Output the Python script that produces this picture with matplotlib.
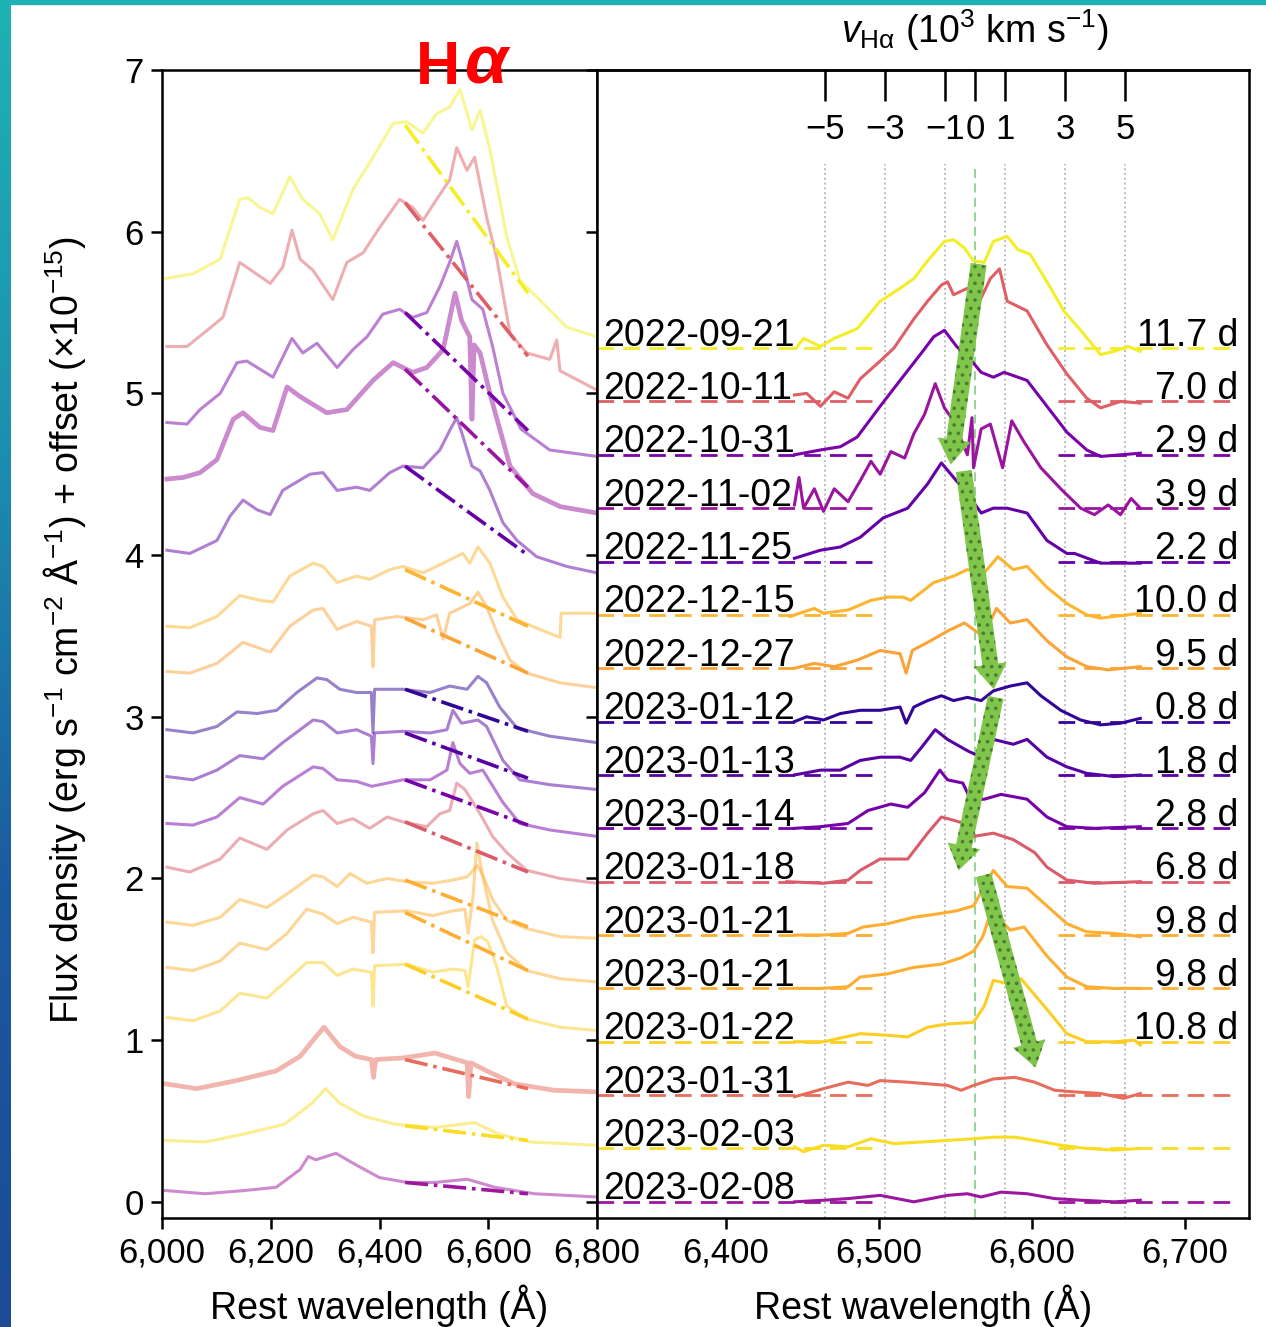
import matplotlib.pyplot as plt
import numpy as np
from matplotlib.colors import LinearSegmentedColormap
from matplotlib.ticker import FuncFormatter

plt.rcParams['font.family'] = ['Liberation Sans', 'DejaVu Sans']
plt.rcParams['mathtext.fontset'] = 'custom'
plt.rcParams['mathtext.rm'] = 'Liberation Sans'
plt.rcParams['mathtext.it'] = 'Liberation Sans:italic'
plt.rcParams['mathtext.bf'] = 'Liberation Sans:bold'
plt.rcParams['hatch.linewidth'] = 1.4

# ---- data -------------------------------------------------------------
dates = ['2022-09-21', '2022-10-11', '2022-10-31', '2022-11-02', '2022-11-25',
         '2022-12-15', '2022-12-27', '2023-01-12', '2023-01-13', '2023-01-14',
         '2023-01-18', '2023-01-21', '2023-01-21', '2023-01-22', '2023-01-31',
         '2023-02-03', '2023-02-08']
days = ['11.7 d', '7.0 d', '2.9 d', '3.9 d', '2.2 d', '10.0 d', '9.5 d', '0.8 d',
        '1.8 d', '2.8 d', '6.8 d', '9.8 d', '9.8 d', '10.8 d', '', '', '']
# phase used for the colour of each spectrum (last three estimated from colour)
color_phase = [11.7, 7.0, 2.9, 3.9, 2.2, 10.0, 9.5, 0.8, 1.8, 2.8, 6.8, 9.8, 9.8,
               10.8, 7.5, 11.2, 4.0]

# left panel: full spectra, flux + offset (1e-15)
left_wave = [
    [6005, 6057, 6107, 6143, 6158, 6180, 6204, 6235, 6259, 6290, 6314, 6351, 6388, 6425, 6450, 6480, 6505, 6529, 6548, 6570, 6585, 6603, 6634, 6658, 6700, 6744, 6800],
    [6009, 6046, 6083, 6112, 6143, 6156, 6199, 6222, 6239, 6254, 6278, 6314, 6340, 6370, 6401, 6437, 6461, 6480, 6505, 6529, 6542, 6561, 6575, 6597, 6616, 6640, 6671, 6713, 6726, 6732, 6800],
    [6009, 6046, 6070, 6107, 6138, 6156, 6204, 6239, 6259, 6285, 6322, 6351, 6377, 6406, 6437, 6461, 6487, 6511, 6529, 6542, 6553, 6570, 6590, 6608, 6627, 6660, 6713, 6800],
    [6009, 6039, 6070, 6101, 6131, 6149, 6180, 6204, 6230, 6254, 6303, 6340, 6388, 6425, 6461, 6487, 6517, 6539, 6551, 6566, 6570, 6574, 6585, 6603, 6640, 6682, 6732, 6800],
    [6009, 6051, 6101, 6125, 6149, 6175, 6199, 6222, 6272, 6296, 6322, 6358, 6382, 6419, 6443, 6480, 6511, 6529, 6542, 6551, 6570, 6585, 6603, 6627, 6653, 6689, 6744, 6800],
    [6009, 6051, 6101, 6143, 6180, 6204, 6235, 6278, 6296, 6322, 6358, 6382, 6419, 6443, 6480, 6517, 6553, 6566, 6581, 6603, 6627, 6653, 6695, 6732, 6734, 6800],
    [6009, 6051, 6101, 6149, 6199, 6235, 6278, 6296, 6322, 6358, 6385, 6388, 6391, 6432, 6480, 6505, 6517, 6529, 6566, 6581, 6597, 6616, 6640, 6671, 6732, 6800],
    [6009, 6057, 6101, 6138, 6175, 6211, 6248, 6285, 6303, 6327, 6358, 6385, 6388, 6391, 6443, 6493, 6529, 6561, 6581, 6597, 6621, 6653, 6713, 6800],
    [6009, 6057, 6101, 6143, 6186, 6222, 6278, 6296, 6322, 6358, 6385, 6388, 6391, 6443, 6493, 6524, 6535, 6551, 6581, 6597, 6627, 6658, 6713, 6800],
    [6009, 6057, 6101, 6143, 6186, 6222, 6278, 6296, 6322, 6358, 6386, 6443, 6493, 6524, 6535, 6548, 6566, 6590, 6627, 6658, 6713, 6800],
    [6009, 6051, 6107, 6143, 6193, 6230, 6278, 6296, 6322, 6351, 6382, 6414, 6443, 6487, 6511, 6529, 6542, 6557, 6585, 6608, 6634, 6671, 6732, 6800],
    [6009, 6057, 6107, 6143, 6193, 6241, 6278, 6296, 6322, 6346, 6377, 6414, 6450, 6498, 6535, 6561, 6572, 6580, 6590, 6608, 6634, 6671, 6732, 6800],
    [6009, 6057, 6107, 6143, 6193, 6230, 6266, 6296, 6322, 6351, 6385, 6388, 6391, 6450, 6498, 6535, 6557, 6563, 6572, 6579, 6590, 6608, 6634, 6671, 6732, 6800],
    [6009, 6057, 6107, 6143, 6193, 6230, 6266, 6296, 6322, 6351, 6385, 6388, 6391, 6450, 6498, 6535, 6557, 6563, 6575, 6586, 6599, 6616, 6634, 6671, 6732, 6800],
    [6006, 6064, 6137, 6210, 6254, 6283, 6298, 6327, 6356, 6385, 6389, 6393, 6444, 6502, 6561, 6564, 6568, 6597, 6648, 6721, 6800],
    [6006, 6079, 6152, 6225, 6276, 6301, 6327, 6371, 6429, 6502, 6575, 6619, 6677, 6800],
    [6006, 6079, 6152, 6210, 6254, 6269, 6283, 6320, 6356, 6400, 6451, 6502, 6561, 6612, 6685, 6800],
]
left_flux = [
    [5.71, 5.74, 5.83, 6.20, 6.21, 6.15, 6.11, 6.34, 6.20, 6.11, 5.95, 6.26, 6.46, 6.67, 6.68, 6.61, 6.73, 6.77, 6.88, 6.63, 6.75, 6.51, 5.97, 5.70, 5.56, 5.41, 5.35],
    [5.29, 5.29, 5.39, 5.47, 5.81, 5.78, 5.68, 5.78, 6.01, 5.83, 5.76, 5.58, 5.81, 5.87, 6.03, 6.20, 6.15, 6.07, 6.20, 6.32, 6.52, 6.38, 6.46, 6.09, 5.83, 5.37, 5.25, 5.21, 5.33, 5.14, 5.02],
    [4.82, 4.81, 4.90, 5.00, 5.19, 5.20, 5.10, 5.34, 5.25, 5.31, 5.16, 5.27, 5.35, 5.49, 5.52, 5.47, 5.50, 5.66, 5.81, 5.94, 5.81, 5.58, 5.52, 5.29, 5.00, 4.78, 4.65, 4.61],
    [4.47, 4.48, 4.51, 4.59, 4.84, 4.88, 4.79, 4.77, 5.04, 4.98, 4.88, 4.90, 5.08, 5.19, 5.13, 5.16, 5.27, 5.62, 5.45, 5.35, 4.84, 5.30, 5.25, 5.00, 4.55, 4.38, 4.30, 4.26],
    [4.03, 4.01, 4.09, 4.24, 4.34, 4.28, 4.25, 4.40, 4.50, 4.51, 4.40, 4.42, 4.40, 4.51, 4.55, 4.54, 4.65, 4.77, 4.85, 4.76, 4.55, 4.52, 4.40, 4.20, 4.09, 3.99, 3.93, 3.89],
    [3.56, 3.55, 3.62, 3.75, 3.72, 3.71, 3.87, 3.95, 3.93, 3.83, 3.87, 3.85, 3.91, 3.93, 3.89, 3.95, 4.01, 3.95, 4.05, 3.95, 3.74, 3.60, 3.54, 3.49, 3.64, 3.64],
    [3.28, 3.27, 3.33, 3.46, 3.40, 3.56, 3.66, 3.67, 3.54, 3.59, 3.56, 3.31, 3.60, 3.62, 3.60, 3.63, 3.48, 3.64, 3.70, 3.77, 3.68, 3.52, 3.35, 3.27, 3.21, 3.18],
    [2.92, 2.90, 2.94, 3.03, 3.02, 3.04, 3.15, 3.24, 3.23, 3.17, 3.15, 3.15, 2.90, 3.17, 3.17, 3.15, 3.19, 3.17, 3.25, 3.21, 3.06, 2.93, 2.88, 2.84],
    [2.63, 2.61, 2.67, 2.76, 2.74, 2.84, 2.98, 2.97, 2.90, 2.92, 2.88, 2.71, 2.90, 2.91, 2.90, 2.92, 3.04, 2.96, 2.98, 2.94, 2.73, 2.61, 2.58, 2.55],
    [2.34, 2.33, 2.38, 2.50, 2.46, 2.57, 2.69, 2.68, 2.61, 2.60, 2.57, 2.61, 2.61, 2.67, 2.84, 2.71, 2.65, 2.67, 2.47, 2.34, 2.30, 2.26],
    [2.07, 2.04, 2.12, 2.25, 2.18, 2.30, 2.40, 2.42, 2.34, 2.37, 2.31, 2.38, 2.35, 2.32, 2.40, 2.42, 2.59, 2.55, 2.40, 2.26, 2.16, 2.05, 2.00, 1.97],
    [1.73, 1.71, 1.76, 1.87, 1.82, 1.93, 2.02, 2.01, 1.95, 2.03, 1.97, 2.00, 1.98, 1.97, 1.99, 2.01, 2.05, 2.08, 2.02, 1.87, 1.74, 1.69, 1.64, 1.63],
    [1.45, 1.43, 1.49, 1.60, 1.56, 1.66, 1.81, 1.78, 1.72, 1.76, 1.73, 1.54, 1.79, 1.80, 1.77, 1.80, 1.81, 1.66, 1.89, 2.22, 2.01, 1.74, 1.54, 1.43, 1.38, 1.36],
    [1.14, 1.12, 1.18, 1.29, 1.26, 1.37, 1.48, 1.48, 1.40, 1.44, 1.42, 1.21, 1.46, 1.47, 1.42, 1.44, 1.43, 1.33, 1.62, 1.64, 1.61, 1.45, 1.21, 1.13, 1.08, 1.06],
    [0.73, 0.70, 0.75, 0.81, 0.90, 1.02, 1.08, 0.96, 0.90, 0.88, 0.77, 0.88, 0.89, 0.92, 0.86, 0.65, 0.86, 0.81, 0.73, 0.69, 0.68],
    [0.38, 0.37, 0.42, 0.48, 0.61, 0.70, 0.61, 0.53, 0.48, 0.46, 0.49, 0.42, 0.37, 0.35],
    [0.07, 0.05, 0.07, 0.09, 0.20, 0.28, 0.26, 0.30, 0.23, 0.15, 0.12, 0.12, 0.14, 0.09, 0.05, 0.03],
]
# pseudo-continuum (dash-dot) under H-alpha: wavelength ends and flux at each end
cont_wave = [6447, 6673]
cont_blue = [6.66, 6.18, 5.50, 5.15, 4.55, 3.91, 3.61, 3.17, 2.90, 2.61, 2.35, 1.99, 1.79, 1.47, 0.88, 0.47, 0.12]
cont_red = [5.62, 5.23, 4.77, 4.42, 4.00, 3.56, 3.27, 2.91, 2.62, 2.33, 2.04, 1.70, 1.43, 1.13, 0.70, 0.38, 0.05]

# right panel: continuum-subtracted H-alpha profiles (relative flux)
right_wave = [
    [6446, 6451, 6462, 6471, 6486, 6501, 6514, 6523, 6532, 6543, 6549, 6556, 6562, 6569, 6575, 6584, 6591, 6599, 6610, 6621, 6632, 6645, 6654, 6663, 6671],
    [6445, 6453, 6462, 6471, 6480, 6488, 6501, 6510, 6523, 6532, 6541, 6545, 6549, 6558, 6567, 6573, 6579, 6584, 6597, 6610, 6623, 6636, 6645, 6658, 6671],
    [6445, 6462, 6475, 6486, 6501, 6514, 6528, 6536, 6543, 6551, 6560, 6567, 6575, 6582, 6597, 6610, 6623, 6636, 6645, 6671],
    [6445, 6448, 6451, 6458, 6464, 6471, 6480, 6488, 6495, 6501, 6508, 6517, 6523, 6530, 6537, 6543, 6549, 6558, 6561, 6562, 6567, 6573, 6581, 6587, 6595, 6606, 6619, 6632, 6641, 6650, 6658, 6665, 6671],
    [6445, 6462, 6475, 6488, 6503, 6519, 6532, 6541, 6549, 6558, 6567, 6575, 6584, 6597, 6610, 6623, 6628, 6645, 6671],
    [6442, 6458, 6464, 6480, 6495, 6506, 6516, 6521, 6536, 6549, 6558, 6569, 6578, 6588, 6597, 6610, 6623, 6636, 6645, 6671],
    [6445, 6458, 6471, 6486, 6501, 6514, 6518, 6522, 6534, 6545, 6556, 6565, 6571, 6577, 6586, 6597, 6610, 6623, 6636, 6650, 6671],
    [6445, 6453, 6464, 6475, 6488, 6501, 6514, 6518, 6523, 6532, 6541, 6549, 6558, 6567, 6575, 6586, 6597, 6606, 6619, 6632, 6645, 6658, 6671],
    [6445, 6462, 6475, 6488, 6501, 6514, 6521, 6528, 6537, 6545, 6558, 6567, 6575, 6588, 6597, 6610, 6623, 6636, 6654, 6671],
    [6445, 6462, 6480, 6493, 6508, 6519, 6530, 6540, 6545, 6555, 6560, 6569, 6580, 6597, 6610, 6623, 6641, 6671],
    [6440, 6464, 6480, 6488, 6501, 6519, 6532, 6541, 6549, 6556, 6562, 6575, 6588, 6602, 6610, 6623, 6641, 6671],
    [6445, 6464, 6480, 6490, 6506, 6523, 6538, 6551, 6562, 6569, 6575, 6584, 6597, 6610, 6623, 6636, 6654, 6671],
    [6445, 6462, 6480, 6488, 6506, 6523, 6541, 6554, 6562, 6568, 6573, 6580, 6586, 6595, 6610, 6623, 6636, 6654, 6671],
    [6445, 6464, 6488, 6506, 6519, 6532, 6545, 6562, 6569, 6575, 6584, 6593, 6610, 6623, 6636, 6654, 6667, 6671],
    [6445, 6453, 6464, 6480, 6493, 6501, 6519, 6532, 6545, 6554, 6562, 6575, 6589, 6602, 6615, 6628, 6645, 6660, 6671],
    [6445, 6451, 6464, 6480, 6495, 6510, 6528, 6545, 6562, 6575, 6589, 6602, 6619, 6636, 6654, 6671],
    [6445, 6464, 6480, 6501, 6523, 6545, 6558, 6567, 6580, 6597, 6615, 6632, 6654, 6671],
]
right_flux = [
    [0.00, 0.06, 0.01, 0.06, 0.12, 0.29, 0.37, 0.43, 0.54, 0.66, 0.67, 0.62, 0.54, 0.53, 0.66, 0.69, 0.61, 0.58, 0.41, 0.23, 0.11, -0.04, -0.02, 0.01, -0.02],
    [0.04, 0.05, -0.03, 0.06, 0.02, 0.14, 0.25, 0.33, 0.51, 0.62, 0.72, 0.74, 0.66, 0.70, 0.64, 0.76, 0.82, 0.62, 0.56, 0.35, 0.17, 0.02, -0.04, 0.00, -0.01],
    [0.00, 0.03, 0.05, 0.11, 0.30, 0.46, 0.63, 0.73, 0.77, 0.67, 0.59, 0.51, 0.48, 0.51, 0.46, 0.30, 0.14, 0.03, -0.01, 0.01],
    [0.02, 0.19, 0.00, 0.12, -0.02, 0.12, 0.04, 0.17, 0.29, 0.21, 0.35, 0.31, 0.46, 0.58, 0.77, 0.62, 0.54, 0.33, 0.56, 0.25, 0.49, 0.52, 0.25, 0.54, 0.41, 0.25, 0.12, 0.00, -0.04, 0.02, -0.04, 0.06, 0.00],
    [0.02, 0.07, 0.09, 0.15, 0.27, 0.33, 0.48, 0.61, 0.52, 0.42, 0.30, 0.33, 0.33, 0.30, 0.13, 0.05, 0.05, -0.01, -0.01],
    [-0.01, 0.04, 0.01, 0.03, 0.09, 0.11, 0.11, 0.09, 0.20, 0.24, 0.28, 0.26, 0.36, 0.28, 0.30, 0.17, 0.07, 0.00, -0.02, 0.01],
    [0.00, 0.03, 0.01, 0.05, 0.11, 0.09, -0.03, 0.11, 0.17, 0.23, 0.28, 0.22, 0.25, 0.37, 0.28, 0.30, 0.17, 0.07, 0.01, -0.01, 0.01],
    [0.00, 0.03, 0.01, 0.05, 0.07, 0.07, 0.09, -0.01, 0.09, 0.13, 0.16, 0.13, 0.15, 0.13, 0.19, 0.22, 0.24, 0.16, 0.07, 0.01, -0.02, -0.01, 0.02],
    [0.00, 0.03, 0.03, 0.09, 0.11, 0.11, 0.09, 0.17, 0.28, 0.22, 0.15, 0.11, 0.22, 0.19, 0.22, 0.11, 0.05, 0.01, -0.01, 0.00],
    [0.00, 0.01, 0.03, 0.11, 0.15, 0.13, 0.22, 0.36, 0.30, 0.28, 0.18, 0.18, 0.21, 0.18, 0.07, 0.01, 0.00, 0.01],
    [0.00, -0.01, 0.01, 0.07, 0.14, 0.14, 0.30, 0.40, 0.38, 0.36, 0.28, 0.30, 0.26, 0.18, 0.09, 0.01, -0.01, 0.00],
    [0.00, 0.00, 0.01, 0.05, 0.07, 0.11, 0.13, 0.15, 0.18, 0.30, 0.40, 0.30, 0.29, 0.18, 0.07, 0.02, 0.01, -0.01],
    [0.00, 0.00, 0.01, 0.07, 0.09, 0.13, 0.15, 0.19, 0.23, 0.32, 0.46, 0.42, 0.36, 0.38, 0.20, 0.07, 0.01, 0.00, 0.00],
    [0.00, 0.00, 0.05, 0.04, 0.03, 0.09, 0.11, 0.12, 0.22, 0.38, 0.36, 0.39, 0.20, 0.05, 0.00, 0.00, 0.01, -0.02],
    [-0.01, 0.01, 0.04, 0.08, 0.06, 0.09, 0.08, 0.07, 0.06, 0.03, 0.06, 0.10, 0.11, 0.08, 0.03, 0.02, 0.01, -0.02, 0.01],
    [0.01, -0.02, 0.02, 0.01, 0.06, 0.03, 0.04, 0.05, 0.06, 0.07, 0.07, 0.05, 0.02, 0.00, -0.01, 0.00],
    [0.00, 0.01, 0.02, 0.04, 0.00, 0.04, 0.05, 0.03, 0.06, 0.05, 0.02, 0.01, 0.00, 0.01],
]
right_step = 0.33                 # vertical spacing between profiles
cont_windows = [(6316, 6496), (6617, 6734)]   # continuum windows (dashed)

vel_ticks = [-5, -3, -1, 0, 1, 3, 5]   # 10^3 km/s
ha_rest = 6563.0
ang_per_kms = 19.6                     # Angstrom per 10^3 km/s as on the top axis

# green arrows (wavelength, flux) tail -> tip
arrow_tail = [(6565.4, 5.80), (6555.6, 4.52), (6576.5, 3.12), (6568.6, 2.02)]
arrow_tip = [(6547.1, 4.56), (6575.2, 3.17), (6552.3, 2.05), (6602.6, 0.83)]

# ---- figure -----------------------------------------------------------
W, H = 1266, 1327
fig = plt.figure(figsize=(W / 100, H / 100), dpi=100)


def box(l, t, r, b):
    return [l / W, 1 - b / H, (r - l) / W, (b - t) / H]


# slide background strips
edge = fig.add_axes([0, 0, 11 / W, 1])
edge_cmap = LinearSegmentedColormap.from_list('edge', ['#1fb2b4', '#1c8fb0', '#1b5aa0', '#1c4a96'])
edge.imshow(np.linspace(0, 1, 256).reshape(-1, 1), aspect='auto', cmap=edge_cmap)
edge.axis('off')
fig.add_artist(plt.Rectangle((0, 1 - 4 / H), 1, 4 / H, transform=fig.transFigure,
                             color='#20b1b3', zorder=0))

ax1 = fig.add_axes(box(162, 70, 597, 1218))
ax2 = fig.add_axes(box(597, 70, 1249, 1218))

cmap = plt.get_cmap('plasma')
colors = [cmap(p / 12.0) for p in color_phase]
comma = FuncFormatter(lambda x, p: f'{x:,.0f}')

# left panel
for i in range(len(dates)):
    lw = 3.4 if i in (3, 14) else 2.2
    ax1.plot(left_wave[i], left_flux[i], color=colors[i], alpha=0.5, lw=lw, zorder=2)
    ax1.plot(cont_wave, [cont_blue[i], cont_red[i]], color=colors[i], lw=2.6,
             ls='-.', zorder=3)

ax1.set_xlim(6000, 6800)
ax1.set_ylim(-0.1, 7)
ax1.set_xticks([6000, 6200, 6400, 6600, 6800])
ax1.xaxis.set_major_formatter(comma)
ax1.set_yticks(range(8))
ax1.tick_params(direction='out', length=8, width=1.8, labelsize=25, pad=5)
ax1.set_xlabel('Rest wavelength (Å)', fontsize=27, labelpad=11)

# right panel
n = len(dates)
for i in range(n):
    base = right_step * (n - 1 - i)
    for lo, hi in cont_windows:
        ax2.plot([lo, hi], [base, base], color=colors[i], lw=2.0,
                 dashes=(6, 3.3), zorder=2)
    ax2.plot(right_wave[i], base + np.array(right_flux[i]), color=colors[i],
             lw=2.2, zorder=3)
    ax2.text(6320, base + 0.015, dates[i], fontsize=27, ha='left', va='baseline', zorder=5)
    if days[i]:
        ax2.text(6735, base + 0.015, days[i], fontsize=27, ha='right', va='baseline', zorder=5)


def lam2vel(lam):
    return (lam - ha_rest) / ang_per_kms


def vel2lam(v):
    return ha_rest + np.asarray(v) * ang_per_kms


for v in vel_ticks:
    if v == 0:
        ax2.axvline(vel2lam(v), ymax=0.918, color='#8fcf92', lw=1.3, dashes=(5, 3), zorder=1)
    else:
        ax2.axvline(vel2lam(v), ymax=0.918, color='#b4b4b4', lw=1.3, ls=':', zorder=1)

for tail, tip in zip(arrow_tail, arrow_tip):
    ax2.annotate('', xy=tip, xytext=tail, zorder=6,
                 arrowprops=dict(arrowstyle='simple,head_width=2.4,head_length=1.8,tail_width=1.15',
                                 mutation_scale=10, fc='#7fc64a', ec='#4d7d33', lw=0,
                                 hatch='..', shrinkA=0, shrinkB=0))

ax2.set_xlim(6316, 6742)
ax2.set_ylim(-0.1, 7)
ax2.set_xticks([6400, 6500, 6600, 6700])
ax2.xaxis.set_major_formatter(comma)
ax2.set_yticks(range(8))
ax2.tick_params(axis='y', labelleft=False, direction='out', length=8, width=1.8)
ax2.tick_params(axis='x', direction='out', length=8, width=1.8, labelsize=25, pad=5)
ax2.set_xlabel('Rest wavelength (Å)', fontsize=27, labelpad=11)

sec = ax2.secondary_xaxis('top', functions=(lam2vel, vel2lam))
sec.set_xticks(vel_ticks)
sec.tick_params(direction='in', length=22, width=1.8, labelsize=25, pad=-55)
sec.spines['top'].set_linewidth(1.8)

for ax in (ax1, ax2):
    for s in ax.spines.values():
        s.set_linewidth(1.8)

fig.text(975 / W, 1 - 30 / H, r'$v_{\mathrm{H\alpha}}$ (10$^3$ km s$^{-1}$)',
         ha='center', va='center', fontsize=27)
fig.text(65 / W, 1 - 630 / H,
         r'Flux density (erg s$^{-1}$ cm$^{-2}$ Å$^{-1}$) + offset (×10$^{-15}$)',
         rotation=90, ha='center', va='center', fontsize=27)

fig.text(416 / W, 1 - 84 / H, 'H', color='#ff0000', fontsize=44, fontweight='bold',
         va='baseline', ha='left')
fig.text(464 / W, 1 - 84 / H, 'α', color='#ff0000', fontsize=50, fontweight='bold',
         style='italic', va='baseline', ha='left')

fig.savefig('out.png', dpi=100)
